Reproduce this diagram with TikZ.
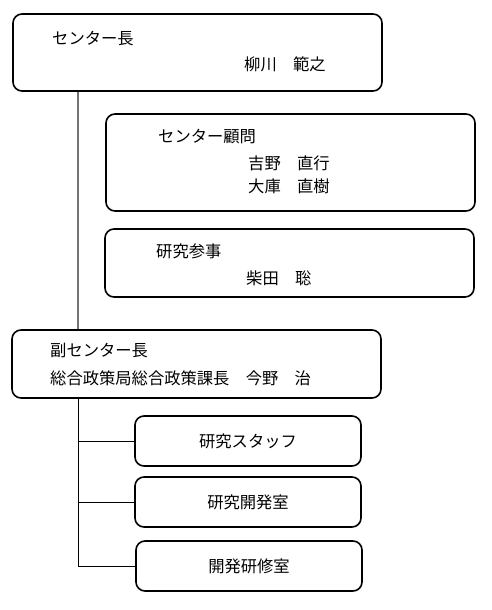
\documentclass[tikz,border=0pt]{standalone}
\usepackage{fontspec}
\setmainfont{Noto Sans CJK JP}
\begin{document}
\begin{tikzpicture}[x=1pt,y=-1pt,
  box/.style={draw=black, line width=1.6pt, rounded corners=9pt, minimum width=369pt, inner sep=0pt},
  sbox/.style={draw=black, line width=1.6pt, rounded corners=9pt, minimum width=226pt, minimum height=50pt, inner sep=0pt, font=\fontsize{16.3}{19}\selectfont},
  lbl/.style={anchor=west, inner sep=0pt, text height=0.88em, text depth=0.12em, font=\fontsize{16.3}{19}\selectfont},
  conn/.style={draw=black, line width=1pt},
  upconn/.style={draw=black!55, line width=1.2pt}]
\useasboundingbox (0,0) rectangle (491,610);
% boxes
\node[box, minimum height=77pt] (b1) at (197.5,52.5) {};
\node[box, minimum height=97pt] (b2) at (290.5,162.5) {};
\node[box, minimum height=68pt] (b3) at (289.5,263) {};
\node[box, minimum height=68pt] (b4) at (196.5,364) {};
\node[sbox] (b5) at (248,441) {研究スタッフ};
\node[sbox] (b6) at (248,502) {研究開発室};
\node[sbox] (b7) at (249,566) {開発研修室};
% texts
\node[lbl] (t1) at (52,41) {センター長};
\node[lbl] (t2) at (244,67) {柳川　範之};
\node[lbl] (t3) at (158,139) {センター顧問};
\node[lbl] (t4) at (248,166) {吉野　直行};
\node[lbl] (t5) at (248,189) {大庫　直樹};
\node[lbl] (t6) at (156,254) {研究参事};
\node[lbl] (t7) at (246,281) {柴田　聡};
\node[lbl] (t8) at (50,353) {副センター長};
\node[lbl] (t9) at (50,381) {総合政策局総合政策課長　今野　治};
% connectors
\coordinate (vx) at (78,0);
\draw[upconn] (b1.south -| vx) -- (b4.north -| vx);
\draw[conn] (b4.south -| vx) |- (b7.west);
\draw[conn] (b5.west -| vx) -- (b5.west);
\draw[conn] (b6.west -| vx) -- (b6.west);
\end{tikzpicture}
\end{document}
